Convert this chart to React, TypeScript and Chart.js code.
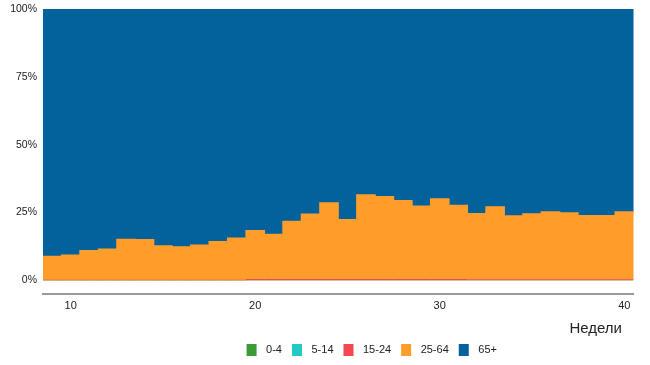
import { useEffect, useRef } from 'react';
import { Chart, registerables } from 'chart.js';

Chart.register(...registerables);

const weeks = [9, 10, 11, 12, 13, 14, 15, 16, 17, 18, 19, 20, 21, 22, 23, 24, 25, 26, 27, 28, 29, 30, 31, 32, 33, 34, 35, 36, 37, 38, 39, 40];

const age0to4 = [0.02, 0.02, 0.02, 0.02, 0.02, 0.02, 0.02, 0.02, 0.02, 0.02, 0.02, 0.02, 0.02, 0.02, 0.02, 0.02, 0.02, 0.02, 0.02, 0.02, 0.02, 0.02, 0.02, 0.02, 0.02, 0.02, 0.02, 0.02, 0.02, 0.02, 0.02, 0.02];
const age5to14 = [0.03, 0.03, 0.03, 0.03, 0.03, 0.03, 0.03, 0.03, 0.03, 0.03, 0.03, 0.03, 0.03, 0.03, 0.03, 0.03, 0.03, 0.03, 0.03, 0.03, 0.03, 0.03, 0.03, 0.03, 0.03, 0.03, 0.03, 0.03, 0.03, 0.03, 0.03, 0.03];
const age15to24 = [0.2, 0.2, 0.2, 0.2, 0.2, 0.2, 0.2, 0.2, 0.2, 0.2, 0.2, 0.5, 0.5, 0.5, 0.5, 0.5, 0.5, 0.5, 0.5, 0.5, 0.5, 0.5, 0.5, 0.4, 0.4, 0.4, 0.4, 0.4, 0.4, 0.4, 0.4, 0.4];
const age25to64 = [8.65, 9.05, 10.75, 11.25, 14.85, 14.75, 12.45, 12.15, 12.75, 14.05, 15.35, 17.85, 16.45, 21.25, 23.85, 28.05, 21.85, 30.95, 30.35, 28.85, 26.85, 29.55, 27.15, 24.15, 26.65, 23.35, 24.05, 24.85, 24.45, 23.45, 23.45, 24.85];
const age65plus = [91.1, 90.7, 89.0, 88.5, 84.9, 85.0, 87.3, 87.6, 87.0, 85.7, 84.4, 81.6, 83.0, 78.2, 75.6, 71.4, 77.6, 68.5, 69.1, 70.6, 72.6, 69.9, 72.3, 75.4, 72.9, 76.2, 75.5, 74.7, 75.1, 76.1, 76.1, 74.7];

const seriesLabels = ['0-4', '5-14', '15-24', '25-64', '65+'];
const seriesColors = ['#3d9b35', '#25c9c3', '#f5474f', '#fe9d2a', '#03629b'];
const seriesInflate = [0, 0, 0, 0.6, 0.6];
const yTicks = [0, 25, 50, 75, 100];
const xTickWeeks = [10, 20, 30, 40];
const axisTitle = 'Недели';

const FONT = "'Liberation Sans', Arial, sans-serif";

export default function App() {
  const ref = useRef<HTMLCanvasElement>(null);

  useEffect(() => {
    document.body.style.margin = '0';
    if (!ref.current) return;
    const series = [age0to4, age5to14, age15to24, age25to64, age65plus];

    const tweaks = {
      id: 'layoutTweaks',
      afterLayout(chart: any) {
        const l = chart.legend;
        if (!l) return;
        const h = l.bottom - l.top;
        l.left += 53;
        l.right += 53;
        l.top = 334;
        l.bottom = 334 + h;
      },
      afterDraw(chart: any) {
        const { ctx, chartArea } = chart;
        ctx.save();
        ctx.font = `15px ${FONT}`;
        ctx.fillStyle = '#222';
        ctx.textAlign = 'right';
        ctx.textBaseline = 'middle';
        ctx.fillText(axisTitle, chartArea.right - 11.5, chartArea.bottom + 34.5);
        ctx.restore();
      },
    };

    const chart = new Chart(ref.current, {
      type: 'bar',
      data: {
        labels: weeks.map(String),
        datasets: series.map((d, i) => ({
          label: seriesLabels[i],
          data: d,
          backgroundColor: seriesColors[i],
          borderWidth: 0,
          inflateAmount: seriesInflate[i],
          barPercentage: 1,
          categoryPercentage: 1,
        })),
      },
      options: {
        responsive: false,
        animation: false,
        layout: { padding: { top: 9, right: 16.5, bottom: 15, left: 0 } },
        plugins: {
          tooltip: { enabled: false },
          legend: {
            position: 'bottom',
            labels: {
              boxWidth: 18,
              boxHeight: 20,
              padding: 6,
              color: '#222',
              font: { family: FONT, size: 11 },
              generateLabels: (c: any) =>
                c.data.datasets.map((ds: any, i: number) => ({
                  text: ds.label,
                  fillStyle: ds.backgroundColor,
                  strokeStyle: '#ffffff',
                  lineWidth: 8,
                  hidden: false,
                  datasetIndex: i,
                  fontColor: '#222',
                })),
            },
          },
        },
        scales: {
          x: {
            stacked: true,
            offset: true,
            grid: { display: false, drawTicks: false },
            border: { display: true, color: '#9a9a9a', width: 2 },
            ticks: {
              autoSkip: false,
              maxRotation: 0,
              padding: 5,
              color: '#222',
              font: { family: FONT, size: 11 },
              callback: (_v: any, i: number) => (xTickWeeks.includes(weeks[i]) ? String(weeks[i]) : ''),
            },
            afterFit: (s: any) => {
              s.height = 20;
            },
          },
          y: {
            stacked: true,
            min: -5,
            max: 100,
            grid: { display: false, drawTicks: true, tickLength: 6 },
            border: { display: false },
            ticks: {
              padding: 0,
              color: '#222',
              font: { family: FONT, size: 10.5 },
              callback: (v: any) => v + '%',
            },
            afterBuildTicks: (s: any) => {
              s.ticks = yTicks.map((v) => ({ value: v }));
            },
            afterFit: (s: any) => {
              s.width = 43;
            },
          },
        },
      } as any,
      plugins: [tweaks],
    });

    return () => chart.destroy();
  }, []);

  return (
    <div style={{ width: 650, height: 365 }}>
      <canvas ref={ref} width={650} height={365} />
    </div>
  );
}
